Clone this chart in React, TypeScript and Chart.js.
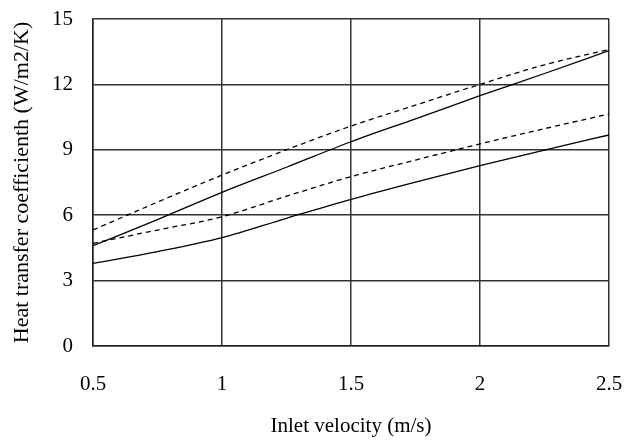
import React, { useEffect, useRef } from "react";
import { Chart, registerables } from "chart.js";

Chart.register(...registerables);

const velocities = [0.5, 0.75, 1, 1.25, 1.5, 1.75, 2, 2.25, 2.5];
const upperSolid = [4.6, 5.8, 7.05, 8.2, 9.37, 10.42, 11.48, 12.5, 13.55];
const upperDashed = [5.32, 6.6, 7.84, 9.0, 10.09, 11.05, 12.0, 12.9, 13.6];
const lowerDashed = [4.71, 5.32, 5.93, 6.87, 7.77, 8.53, 9.27, 9.97, 10.64];
const lowerSolid = [3.79, 4.33, 4.97, 5.86, 6.73, 7.52, 8.27, 8.99, 9.68];

const xTicks = [0.5, 1, 1.5, 2, 2.5];
const yTicks = [0, 3, 6, 9, 12, 15];

const xTitle = "Inlet velocity (m/s)";
const yTitle = "Heat transfer coefficienth (W/m2/K)";

function toPoints(ys: number[]) {
  return velocities.map((x, i) => ({ x, y: ys[i] }));
}

function zeroPad(s: any) {
  s.paddingTop = 0;
  s.paddingBottom = 0;
  s.paddingLeft = 0;
  s.paddingRight = 0;
}

export default function App() {
  const ref = useRef<HTMLCanvasElement | null>(null);

  useEffect(() => {
    if (!ref.current) return;
    const family = "'Liberation Serif', 'Times New Roman', serif";
    const font = { family, size: 21 };
    const yTitleFont = { family, size: 22 };
    const line = (data: number[], dashed: boolean) => ({
      data: toPoints(data),
      borderColor: "#000",
      borderWidth: 1.3,
      borderDash: dashed ? [5, 4] : [],
      pointRadius: 0,
      fill: false,
      cubicInterpolationMode: "monotone" as const,
    });
    const chart = new Chart(ref.current, {
      type: "line",
      data: {
        datasets: [
          line(upperSolid, false),
          line(upperDashed, true),
          line(lowerDashed, true),
          line(lowerSolid, false),
        ],
      },
      options: {
        animation: false,
        responsive: false,
        maintainAspectRatio: false,
        layout: { padding: { top: 19, right: 15, bottom: 0, left: 0 } },
        plugins: { legend: { display: false }, tooltip: { enabled: false } },
        scales: {
          x: {
            type: "linear",
            min: 0.5,
            max: 2.5,
            afterBuildTicks: (s: any) => {
              s.ticks = xTicks.map((v) => ({ value: v }));
            },
            afterFit: (s: any) => {
              s.height = 94;
              zeroPad(s);
            },
            ticks: {
              color: "#000",
              font,
              padding: 26,
              maxRotation: 0,
              callback: (v: any) => String(v),
            },
            grid: { color: "#333", lineWidth: 1.5, drawTicks: false },
            border: { color: "#222", width: 1.5 },
            title: {
              display: true,
              text: xTitle,
              color: "#000",
              font,
              padding: { top: 18, bottom: 1 },
            },
          },
          y: {
            type: "linear",
            min: 0,
            max: 15,
            afterBuildTicks: (s: any) => {
              s.ticks = yTicks.map((v) => ({ value: v }));
            },
            afterFit: (s: any) => {
              s.width = 93;
              zeroPad(s);
            },
            ticks: {
              color: "#000",
              font,
              padding: 20,
              callback: (v: any) => String(v),
            },
            grid: { color: "#333", lineWidth: 1.5, drawTicks: false },
            border: { color: "#222", width: 1.5 },
            title: {
              display: true,
              text: yTitle,
              color: "#000",
              font: yTitleFont,
              padding: { top: 9, bottom: 2 },
            },
          },
        },
      },
    });
    return () => chart.destroy();
  }, []);

  return (
    <div style={{ position: "fixed", left: 0, top: 0, width: 624, height: 440, background: "#fff" }}>
      <canvas ref={ref} width={624} height={440} style={{ width: 624, height: 440 }} />
    </div>
  );
}
